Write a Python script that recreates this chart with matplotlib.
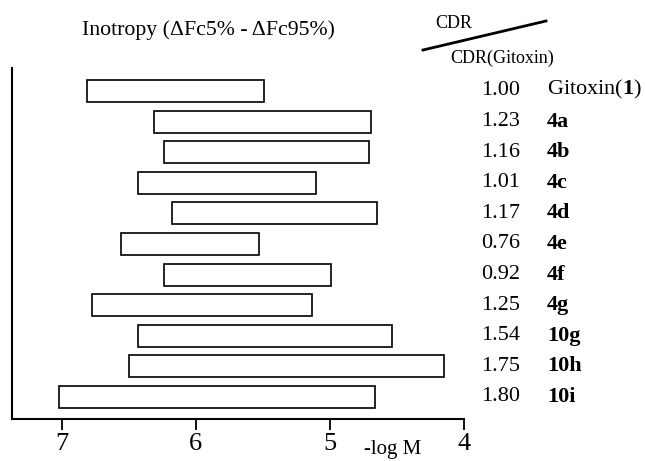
import matplotlib
matplotlib.use("Agg")
import matplotlib.pyplot as plt
from matplotlib.lines import Line2D

plt.rcParams['font.family'] = ['Liberation Serif', 'DejaVu Serif']
plt.rcParams['mathtext.fontset'] = 'custom'
plt.rcParams['mathtext.rm'] = 'Liberation Serif'
plt.rcParams['mathtext.bf'] = 'Liberation Serif:bold'

# -log M range (DFc5% .. DFc95%) for each compound, top to bottom
compounds = ['Gitoxin', '4a', '4b', '4c', '4d', '4e', '4f', '4g', '10g', '10h', '10i']
low_conc = [6.81, 6.31, 6.24, 6.43, 6.18, 6.56, 6.24, 6.77, 6.43, 6.50, 7.02]
high_conc = [5.49, 4.69, 4.71, 5.10, 4.65, 5.53, 4.99, 5.13, 4.54, 4.15, 4.66]
cdr_ratio = ['1.00', '1.23', '1.16', '1.01', '1.17', '0.76', '0.92', '1.25', '1.54', '1.75', '1.80']
ticks = [7, 6, 5, 4]

W, H = 645, 461
fig = plt.figure(figsize=(W / 100, H / 100), dpi=100)
ax = fig.add_axes([12 / W, 1 - 419 / H, (464 - 12) / W, (419 - 68) / H])

rows = range(len(compounds))
widths = [lo - hi for lo, hi in zip(low_conc, high_conc)]
ax.barh(rows, widths, left=high_conc, height=0.72,
        color='white', edgecolor='black', linewidth=1.2)

ax.set_xlim(7.37, 4.0)
ax.set_ylim(10.72, -0.75)
ax.set_xticks(ticks)
ax.set_xticklabels([str(t) for t in ticks], fontsize=19)
ax.tick_params(axis='x', direction='out', length=8, width=1.3, pad=2)
ax.set_yticks([])
for s in ['top', 'right']:
    ax.spines[s].set_visible(False)
ax.spines['left'].set_linewidth(1.5)
ax.spines['bottom'].set_linewidth(1.5)

tr = ax.get_yaxis_transform()
x_num = (481 - 12) / (464 - 12)
x_name = (547 - 12) / (464 - 12)
for i, (name, r) in enumerate(zip(compounds, cdr_ratio)):
    ax.text(x_num, i, r, transform=tr, fontsize=16, ha='left', va='center',
            clip_on=False)
    if name == 'Gitoxin':
        label = r'Gitoxin($\mathbf{1}$)'
        ax.text(x_name, i - 0.05, label, transform=tr, fontsize=16,
                ha='left', va='center', clip_on=False)
    else:
        ax.text(x_name, i, name, transform=tr, fontsize=16, ha='left',
                va='center', fontweight='bold', clip_on=False)

fig.text(82 / W, 1 - 30 / H, 'Inotropy (\u0394Fc5% - \u0394Fc95%)',
         fontsize=15.7, ha='left', va='center')
fig.text(435 / W, 1 - 23 / H, 'CDR', fontsize=13, ha='left', va='center')
fig.text(450 / W, 1 - 58 / H, 'CDR(Gitoxin)', fontsize=13, ha='left', va='center')
fig.add_artist(Line2D([423 / W, 546 / W], [1 - 50 / H, 1 - 21 / H],
                      transform=fig.transFigure, color='black', linewidth=2))
fig.text(393 / W, 1 - 459 / H, '-log M', fontsize=15, ha='center', va='bottom')

fig.savefig('out.png', dpi=100)
